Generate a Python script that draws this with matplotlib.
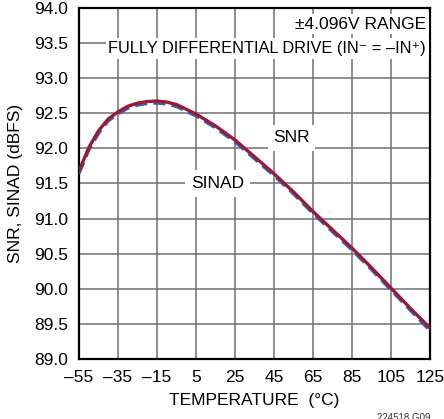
import matplotlib.pyplot as plt

# values
temps = [-55, -50, -45, -40, -35, -30, -25, -20, -15, -10, -5, 5, 15, 25, 35, 45, 55, 65, 75, 85, 95, 105, 115, 125]
snr = [91.68, 92.01, 92.25, 92.42, 92.52, 92.60, 92.645, 92.668, 92.675, 92.66, 92.625, 92.49, 92.32, 92.12,
       91.88, 91.64, 91.38, 91.10, 90.84, 90.58, 90.30, 90.01, 89.72, 89.44]
sinad = [91.64, 91.97, 92.21, 92.39, 92.49, 92.57, 92.615, 92.638, 92.645, 92.63, 92.595, 92.46, 92.29, 92.09,
         91.85, 91.61, 91.35, 91.07, 90.81, 90.55, 90.27, 89.98, 89.69, 89.40]
xticks = [-55, -35, -15, 5, 25, 45, 65, 85, 105, 125]
yticks = [89.0, 89.5, 90.0, 90.5, 91.0, 91.5, 92.0, 92.5, 93.0, 93.5, 94.0]

plt.rcParams['font.family'] = ['Liberation Sans', 'DejaVu Sans']
plt.rcParams['axes.unicode_minus'] = True

fig = plt.figure(figsize=(4.44, 4.19), dpi=100)
ax = fig.add_axes([79 / 444, 1 - 359 / 419, 351 / 444, 351 / 419])

ax.plot(temps, sinad, color='#3a62b8', lw=2.2, ls=(0, (4, 2)), zorder=3)
ax.plot(temps, snr, color='#9a1a35', lw=2.4, zorder=4)

ax.set_xlim(-55, 125)
ax.set_ylim(89, 94)
ax.set_xticks(xticks)
ax.set_xticklabels([str(t).replace('-', '\u2013') for t in xticks])
ax.set_yticks(yticks)
ax.set_yticklabels([f'{v:.1f}' for v in yticks])
ax.tick_params(length=0, labelsize=12.5, pad=8)
ax.grid(True, color='#707070', lw=1.1)
for s in ax.spines.values():
    s.set_linewidth(1.6)
    s.set_color('black')

ax.set_xlabel('TEMPERATURE  (\u00b0C)', fontsize=12.5, labelpad=6)
ax.set_ylabel('SNR, SINAD (dBFS)', fontsize=12.5, labelpad=8)

box = dict(facecolor='white', edgecolor='none', pad=2)
ax.text(123, 93.77, '\u00b14.096V RANGE', ha='right', va='center', fontsize=12.5, bbox=box, zorder=5)
ax.text(123, 93.42, 'FULLY DIFFERENTIAL DRIVE (IN\u207b = \u2013IN\u207a)', ha='right', va='center',
        fontsize=11.8, bbox=box, zorder=5)
ax.text(54, 92.15, 'SNR', ha='center', va='center', fontsize=12.5,
        bbox=dict(facecolor='white', edgecolor='none', pad=4), zorder=5)
ax.text(16, 91.5, 'SINAD', ha='center', va='center', fontsize=12.5,
        bbox=dict(facecolor='white', edgecolor='none', pad=4), zorder=5)

fig.text(430 / 444, 6 / 419, '224518 G09', ha='right', va='top', fontsize=7, color='#333333')

fig.savefig('out.png', dpi=100)
